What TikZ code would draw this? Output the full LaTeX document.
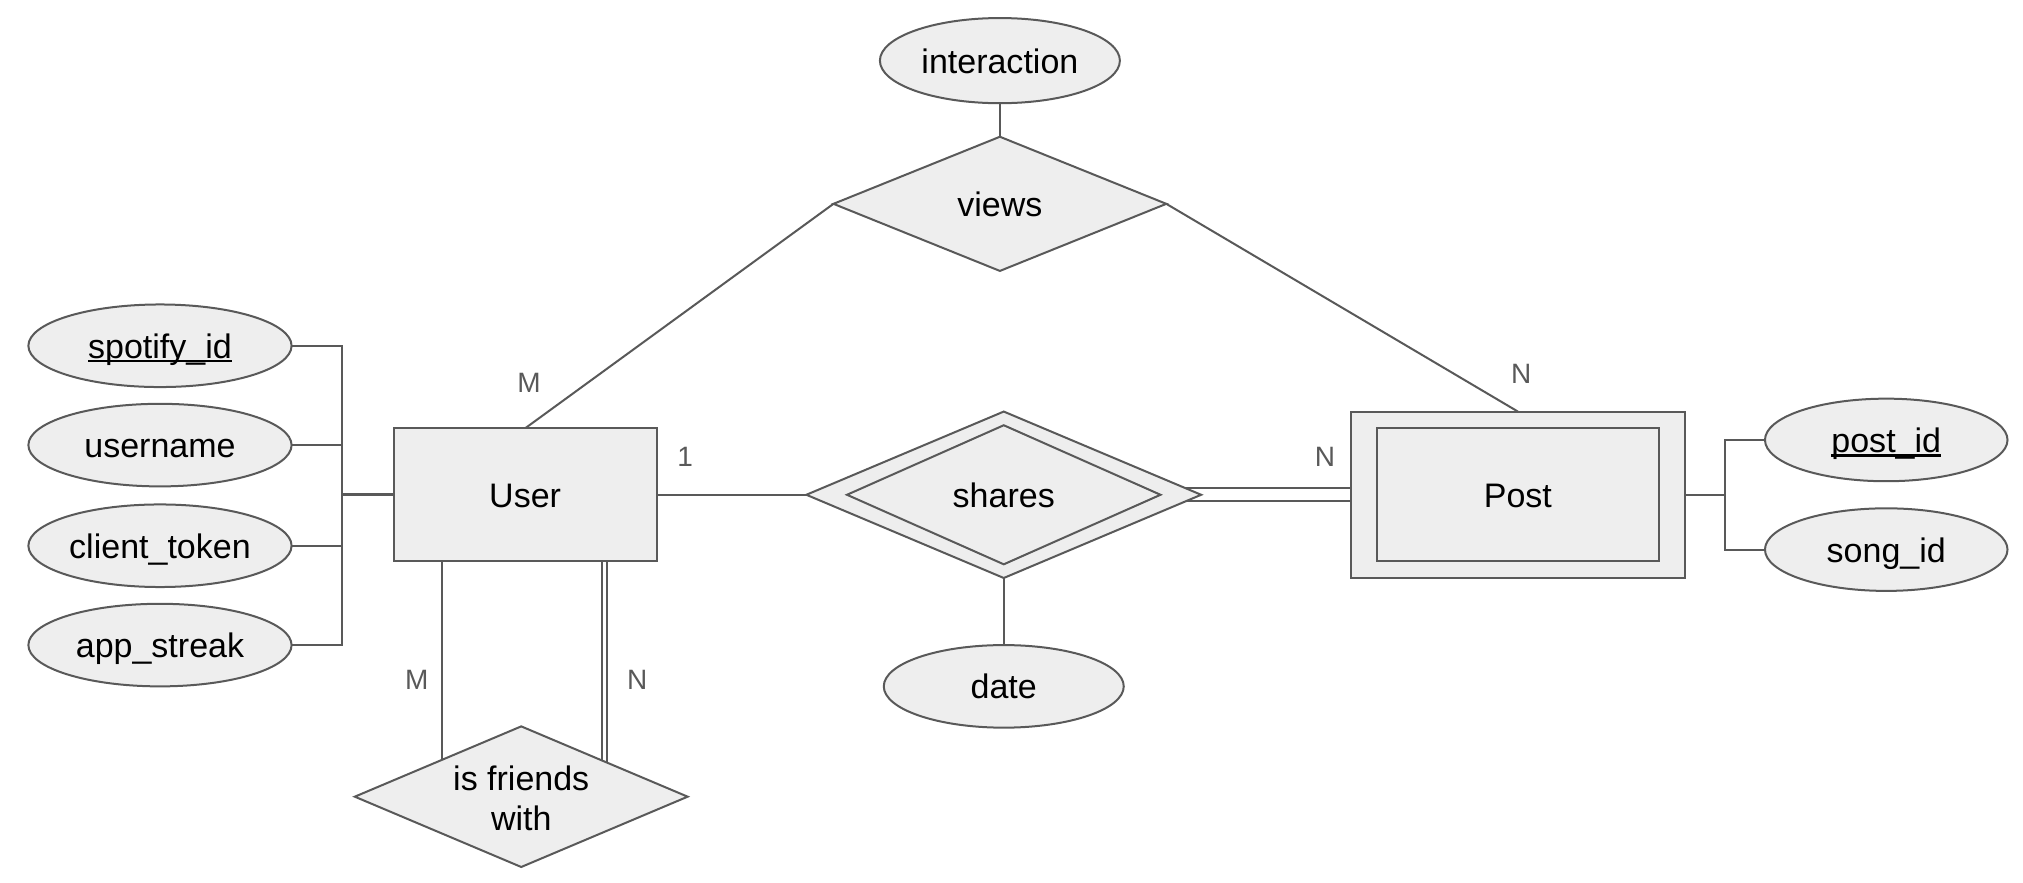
\documentclass[tikz,border=0pt]{standalone}
\usepackage{fontspec}
\setmainfont{Liberation Sans}
\usetikzlibrary{shapes.geometric,backgrounds,calc}
\definecolor{ln}{HTML}{595959}
\definecolor{fl}{HTML}{EEEEEE}
\definecolor{lbl}{HTML}{595959}
\newlength\pu
\setlength\pu{0.645pt}
\newcommand\keyu[1]{\setbox0\hbox{#1}\rlap{\rule[-0.12em]{\wd0}{0.065em}}\box0}
\begin{document}
\begin{tikzpicture}[x=0.645pt,y=-0.645pt,
  every node/.style={font=\fontsize{17}{20}\selectfont},
  txt/.style={text height=15.5pt, text depth=3pt},
  ent/.style={draw=ln, fill=fl, line width=1pt, rectangle, inner sep=0pt, outer sep=0pt, txt},
  att/.style={draw=ln, fill=fl, line width=1pt, ellipse, inner sep=0pt, outer sep=0pt, txt},
  rel/.style={draw=ln, fill=fl, line width=1pt, diamond, inner sep=0pt, outer sep=0pt, txt},
  conn/.style={draw=ln, line width=1pt},
  card/.style={text=lbl, inner sep=0pt, font=\fontsize{14}{16}\selectfont}]
\useasboundingbox (0,0) rectangle (1568,684);

% attributes of User
\node[att, minimum width=204\pu, minimum height=64\pu] (spotify) at (124,268) {\keyu{spotify\_id}};
\node[att, minimum width=204\pu, minimum height=64\pu] (username) at (124,345) {username};
\node[att, minimum width=204\pu, minimum height=64\pu] (clienttoken) at (124,423) {client\_token};
\node[att, minimum width=204\pu, minimum height=64\pu] (appstreak) at (124,500) {app\_streak};

% entities
\node[ent, minimum width=204\pu, minimum height=103\pu] (User) at (407,383.5) {User};
\node[ent, minimum width=259\pu, minimum height=129\pu] (Post) at (1176.5,383.5) {};
\node[ent, minimum width=219\pu, minimum height=103\pu] (PostIn) at (1176.5,383.5) {Post};

% relationships
\node[rel, minimum width=258\pu, minimum height=104\pu] (views) at (775,158) {views};
\node[rel, minimum width=306\pu, minimum height=129\pu] (shares) at (778,383.5) {};
\node[rel, minimum width=243\pu, minimum height=103\pu] (sharesIn) at (778,383.5) {shares};
\node[rel, minimum width=258\pu, minimum height=109\pu] (friends) at (404,617.5) {};
\node[align=center, inner sep=0pt] (friendsTxt) at (404,619) {is friends\\with};

% other attributes
\node[att, minimum width=186\pu, minimum height=66\pu] (interaction) at (775,47) {interaction};
\node[att, minimum width=186\pu, minimum height=64\pu] (date) at (778,532) {date};
\node[att, minimum width=188\pu, minimum height=64\pu] (postid) at (1462,341) {\keyu{post\_id}};
\node[att, minimum width=188\pu, minimum height=64\pu] (songid) at (1462,426) {song\_id};

% helper coordinates
\coordinate (lb) at (265,383.5);
\coordinate (rb) at (1337,383.5);
\coordinate (um) at ($(User.south)+(-64.5,0)$);
\coordinate (un1) at ($(User.south)+(59.5,0)$);
\coordinate (un2) at ($(User.south)+(63.5,0)$);
\coordinate (sa) at ($(shares.center)+(0,-5)$);
\coordinate (sb) at ($(shares.center)+(0,5)$);
\coordinate (pa) at ($(Post.west)+(0,-5)$);
\coordinate (pb) at ($(Post.west)+(0,5)$);

\begin{scope}[on background layer]
\draw[conn] (User.north) -- (views.west);
\draw[conn] (views.east) -- (Post.north);
\draw[conn] (interaction.south) -- (views.north);
\draw[conn] (User.east) -- (shares.west);
\draw[conn] (sa) -- (pa);
\draw[conn] (sb) -- (pb);
\draw[conn] (shares.south) -- (date.north);
\draw[conn] (spotify.east) -| (lb);
\draw[conn] (username.east) -| (lb);
\draw[conn] (clienttoken.east) -| (lb);
\draw[conn] (appstreak.east) -| (lb);
\draw[conn, line width=1.5pt] (lb) -- (User.west);
\draw[conn] (Post.east) -- (rb);
\draw[conn] (rb) |- (postid.west);
\draw[conn] (rb) |- (songid.west);
\draw[conn] (um) -- (um |- friends.center);
\draw[conn] (un1) -- (un1 |- friends.center);
\draw[conn] (un2) -- (un2 |- friends.center);
\end{scope}

% cardinalities
\node[card] (cM1) at (410,297) {M};
\node[card] (cN1) at (1179,290) {N};
\node[card] (c1) at (531,354) {1};
\node[card] (cN2) at (1027,354) {N};
\node[card] (cM2) at (323,527) {M};
\node[card] (cN3) at (494,527) {N};
\end{tikzpicture}
\end{document}
